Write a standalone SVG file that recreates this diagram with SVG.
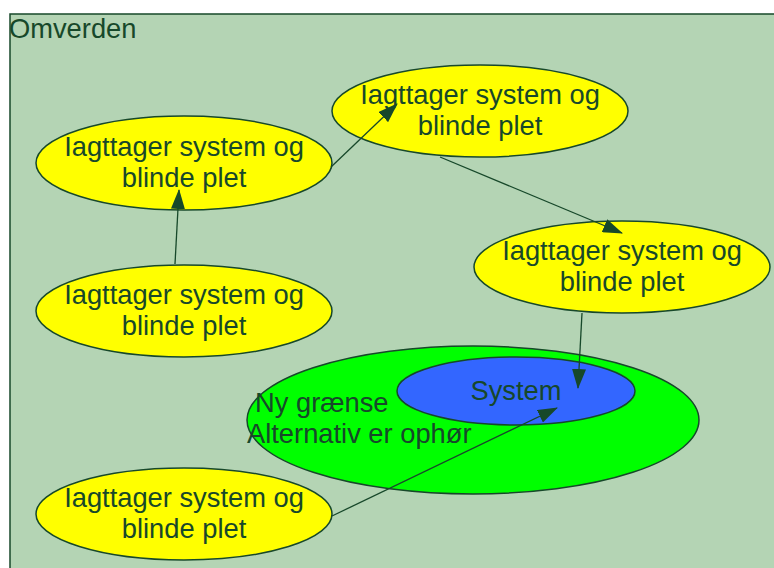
<svg xmlns="http://www.w3.org/2000/svg" width="774" height="568" viewBox="0 0 774 568">
  <defs>
    <style>
      .lbl { font-family: "Liberation Sans", Arial, sans-serif; font-size: 27.3px; fill: #17482a; }
      .mid { text-anchor: middle; }
      .obs { fill: #ffff00; stroke: #17482a; stroke-width: 1.5; }
      .edge { fill: none; stroke: #17482a; stroke-width: 1.3; marker-end: url(#arrow); }
    </style>
    <marker id="arrow" viewBox="0 0 20 14" refX="19" refY="7" markerWidth="20" markerHeight="14" markerUnits="userSpaceOnUse" orient="auto">
      <path d="M0,0 L20,7 L0,14 Z" fill="#17482a"/>
    </marker>
  </defs>

  <!-- environment frame -->
  <g id="omverden">
    <rect x="10" y="14" width="780" height="570" fill="#b4d4b4" stroke="#17482a" stroke-width="1.5"/>
    <text class="lbl" x="9" y="38">Omverden</text>
  </g>

  <!-- new boundary with the system inside -->
  <g id="graense">
    <ellipse cx="473" cy="420" rx="226" ry="74" fill="#00ff00" stroke="#17482a" stroke-width="1.5"/>
    <text class="lbl" x="255" y="412">Ny grænse</text>
    <text class="lbl" x="247" y="443">Alternativ er ophør</text>
  </g>
  <g id="system">
    <ellipse cx="516" cy="391" rx="119" ry="34" fill="#3366ff" stroke="#17482a" stroke-width="1.5"/>
    <text class="lbl mid" x="516" y="400">System</text>
  </g>

  <!-- observers -->
  <g id="obs1">
    <ellipse class="obs" cx="184" cy="163" rx="148" ry="47"/>
    <text class="lbl mid" x="184" y="156">Iagttager system og</text>
    <text class="lbl mid" x="184" y="187">blinde plet</text>
  </g>
  <g id="obs2">
    <ellipse class="obs" cx="480" cy="111" rx="148" ry="46"/>
    <text class="lbl mid" x="480" y="104">Iagttager system og</text>
    <text class="lbl mid" x="480" y="135">blinde plet</text>
  </g>
  <g id="obs3">
    <ellipse class="obs" cx="622" cy="267" rx="148" ry="46"/>
    <text class="lbl mid" x="622" y="260">Iagttager system og</text>
    <text class="lbl mid" x="622" y="291">blinde plet</text>
  </g>
  <g id="obs4">
    <ellipse class="obs" cx="184" cy="311" rx="148" ry="46"/>
    <text class="lbl mid" x="184" y="304">Iagttager system og</text>
    <text class="lbl mid" x="184" y="335">blinde plet</text>
  </g>
  <g id="obs5">
    <ellipse class="obs" cx="184" cy="514" rx="148" ry="46"/>
    <text class="lbl mid" x="184" y="507">Iagttager system og</text>
    <text class="lbl mid" x="184" y="538">blinde plet</text>
  </g>

  <!-- connectors -->
  <g id="edges">
    <line class="edge" x1="175" y1="264" x2="179" y2="190"/>
    <line class="edge" x1="331" y1="167" x2="397" y2="104"/>
    <line class="edge" x1="440" y1="157" x2="622" y2="233"/>
    <line class="edge" x1="582" y1="313" x2="578" y2="388"/>
    <line class="edge" x1="332" y1="516" x2="557" y2="408"/>
  </g>
</svg>
